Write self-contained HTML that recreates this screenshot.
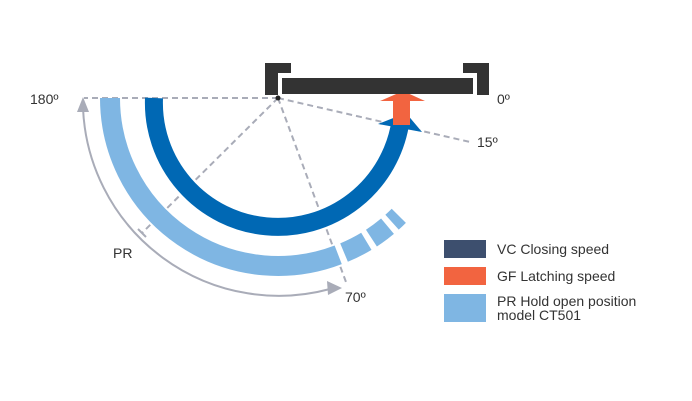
<!DOCTYPE html>
<html><head><meta charset="utf-8"><style>
html,body{margin:0;padding:0;background:#fff}
svg{display:block}
text{font-family:"Liberation Sans",sans-serif;font-size:14px;fill:#333}
</style></head><body>
<svg width="692" height="401" viewBox="0 0 692 401">
<path d="M83 108 A196 196 0 0 0 330 289" fill="none" stroke="#a9acb8" stroke-width="2"/>
<polygon points="83,97 77,112 89,112" fill="#a9acb8"/>
<polygon points="342,288 327,281 328,295" fill="#a9acb8"/>
<g stroke="#a9acb8" stroke-width="2" stroke-dasharray="6,4" fill="none">
<line x1="278" y1="98" x2="84" y2="98"/>
<line x1="278" y1="98" x2="470" y2="142"/>
<line x1="278" y1="98" x2="346" y2="282"/>
<line x1="278" y1="98" x2="142" y2="233"/>
</g>
<line x1="138" y1="229" x2="146" y2="237" stroke="#a9acb8" stroke-width="2"/>
<path d="M110 98 A168 168 0 0 0 338.2 254.8" fill="none" stroke="#7fb6e3" stroke-width="20"/>
<path d="M339.4 254.4 A168 168 0 0 0 398.8 215.8" fill="none" stroke="#7fb6e3" stroke-width="20" stroke-dasharray="0,5,25,6,20,6,10,100"/>
<path d="M154 98 A124 124 0 0 0 400.5 121.5" fill="none" stroke="#0068b4" stroke-width="18"/>
<polygon points="378,124 406,113 422,132" fill="#0068b4"/>
<rect x="393" y="100" width="17" height="25" fill="#f26440"/>
<polygon points="380,101 425,101 403,91" fill="#f26440"/>
<rect x="282" y="78" width="191" height="16" fill="#333"/>
<path d="M265 63 H291 V73 H278 V95 H265 Z" fill="#333"/>
<path d="M463 63 H489 V95 H477 V73 H463 Z" fill="#333"/>
<circle cx="278" cy="98" r="2.5" fill="#222"/>
<text x="30" y="104">180º</text>
<text x="497" y="104">0º</text>
<text x="477" y="147">15º</text>
<text x="113" y="258">PR</text>
<text x="345" y="302">70º</text>
<rect x="444" y="240" width="42" height="18" fill="#3d4f6e"/>
<rect x="444" y="267" width="42" height="18" fill="#f26440"/>
<rect x="444" y="294" width="42" height="28" fill="#7fb6e3"/>
<text x="497" y="254">VC Closing speed</text>
<text x="497" y="281">GF Latching speed</text>
<text x="497" y="306">PR  Hold open position</text>
<text x="497" y="320">model  CT501</text>
</svg>
</body></html>
